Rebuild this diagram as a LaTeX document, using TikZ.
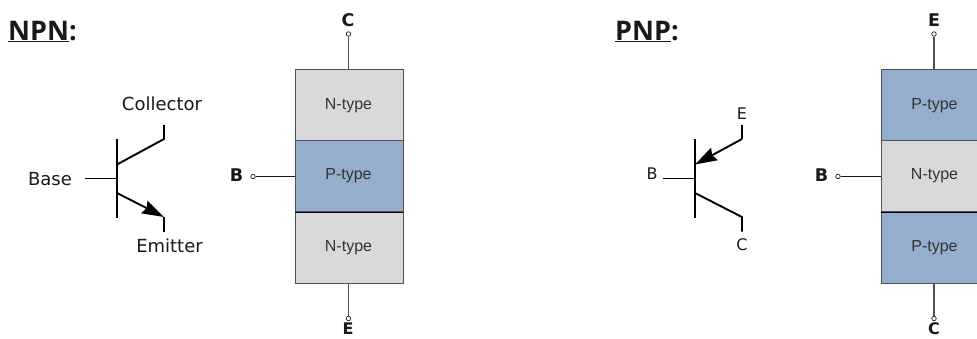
\documentclass[tikz,border=0pt]{standalone}
\usepackage{fontspec}
\setmainfont{DejaVu Sans}
\newfontfamily\blockfont{Liberation Sans}
\newfontfamily\titlefont{Open Sans}
\usetikzlibrary{arrows.meta}
\definecolor{ntype}{RGB}{217,217,217}
\definecolor{ptype}{RGB}{149,174,206}
\definecolor{edgegray}{RGB}{80,80,80}
\definecolor{inkdark}{RGB}{25,25,25}
\tikzset{
  x=1pt,y=-1pt,
  region/.style={draw=edgegray,line width=0.9pt,minimum width=107.5pt,minimum height=71.5pt,inner sep=0pt},
  ntypebox/.style={region,fill=ntype},
  ptypebox/.style={region,fill=ptype},
  blocktext/.style={font=\blockfont\fontsize{16}{18}\selectfont,text=black!80,inner sep=0pt},
  terminal/.style={circle,draw=inkdark,fill=white,line width=0.7pt,minimum size=4.5pt,inner sep=0pt},
  pinlabel/.style={font=\bfseries\fontsize{17.5}{18}\selectfont,inner sep=0pt,text=inkdark},
  pinlabellow/.style={font=\bfseries\fontsize{16}{16}\selectfont,inner sep=0pt,text=inkdark},
  title/.style={font=\titlefont\bfseries\fontsize{27}{28}\selectfont,inner sep=0pt,anchor=base west,text=inkdark},
  symlabel/.style={font=\fontsize{18}{20}\selectfont,inner sep=0pt,text=black!90},
  symlabelsmall/.style={font=\fontsize{16}{18}\selectfont,inner sep=0pt,text=black!90},
  lead/.style={draw=edgegray,line width=1.1pt},
  thinlead/.style={draw=inkdark,line width=0.8pt},
  sym/.style={draw=black,line width=1.9pt},
  head/.style={-{Stealth[length=22pt,width=14pt,inset=2.5pt]}}
}
\begin{document}
\begin{tikzpicture}
\useasboundingbox (0,0) rectangle (977,338);
\clip (0,0) rectangle (977,338);
% titles
\node[title] (t1) at (8,40) {\underline{NPN}:};
\node[title] (t2) at (615,40) {\underline{PNP}:};
% NPN block
\node[ntypebox] (n1) at (349.25,105.25) {};
\node[ptypebox] (n2) at (349.25,176.25) {};
\node[ntypebox] (n3) at (349.25,247.5) {};
\node[blocktext] (n1t) at (348.5,105.5) {N-type};
\node[blocktext] (n2t) at (348.5,176) {P-type};
\node[blocktext] (n3t) at (348.5,247.5) {N-type};
\draw[draw=black,line width=0.6pt] (n2.south west) -- (n2.south east);
\node[terminal] (nc) at (348.5,34) {};
\node[terminal] (ne) at (348.5,318.5) {};
\node[terminal] (nb) at (253,176.5) {};
\node[pinlabel] (lnc) at (348,20) {C};
\node[pinlabellow] (lne) at (348,329) {E};
\node[pinlabel] (lnb) at (236.5,175.5) {B};
\draw[lead] (nc) -- (nc |- n1.north);
\draw[lead] (ne) -- (ne |- n3.south);
\draw[thinlead] (nb) -- (nb -| n2.west);
% PNP block
\node[ptypebox] (p1) at (934.75,105.25) {};
\node[ntypebox] (p2) at (934.75,176.25) {};
\node[ptypebox] (p3) at (934.75,247.5) {};
\node[blocktext] (p1t) at (934.5,105.5) {P-type};
\node[blocktext] (p2t) at (934.5,176) {N-type};
\node[blocktext] (p3t) at (934.5,247.5) {P-type};
\draw[draw=black,line width=0.6pt] (p2.south west) -- (p2.south east);
\node[terminal] (pe) at (934,34) {};
\node[terminal] (pc) at (934,318.5) {};
\node[terminal] (pb) at (838,176.5) {};
\node[pinlabel] (lpe) at (934,20) {E};
\node[pinlabellow] (lpc) at (934,329) {C};
\node[pinlabel] (lpb) at (821.5,175.5) {B};
\draw[lead] (pe) -- (pe |- p1.north);
\draw[lead] (pc) -- (pc |- p3.south);
\draw[thinlead] (pb) -- (pb -| p2.west);
% NPN symbol
\coordinate (nbt) at (117,139);
\coordinate (nbb) at (117,218);
\coordinate (nbm) at (117,178.5);
\coordinate (nbl) at (85,178.5);
\coordinate (ncj) at (117,164.5);
\coordinate (nck) at (164,139);
\coordinate (nce) at (164,125);
\coordinate (nej) at (117,193);
\coordinate (nek) at (164,217);
\coordinate (nee) at (164,231.5);
\draw[sym] (nbt) -- (nbb);
\draw[sym] (nbl) -- (nbm);
\draw[sym] (ncj) -- (nck) -- (nce);
\draw[sym,head] (nej) -- (nek);
\draw[sym] (nek) -- (nee);
\node[symlabel] (lbase) at (50,179) {Base};
\node[symlabel] (lcoll) at (162,104) {Collector};
\node[symlabel] (lemit) at (169.5,246) {Emitter};
% PNP symbol
\coordinate (pbt) at (695,139);
\coordinate (pbb) at (695,218);
\coordinate (pbm) at (695,178.5);
\coordinate (pbl) at (663,178.5);
\coordinate (pej) at (695,164.5);
\coordinate (pek) at (742,139);
\coordinate (pee) at (742,125);
\coordinate (pcj) at (695,193);
\coordinate (pck) at (742,217);
\coordinate (pcc) at (742,231.5);
\draw[sym] (pbt) -- (pbb);
\draw[sym] (pbl) -- (pbm);
\draw[sym] (pee) -- (pek);
\draw[sym,head] (pek) -- (pej);
\draw[sym] (pcj) -- (pck) -- (pcc);
\node[symlabelsmall] (lpbs) at (652,174) {B};
\node[symlabelsmall] (lpes) at (742,114) {E};
\node[symlabelsmall] (lpcs) at (742,245) {C};
\end{tikzpicture}
\end{document}
